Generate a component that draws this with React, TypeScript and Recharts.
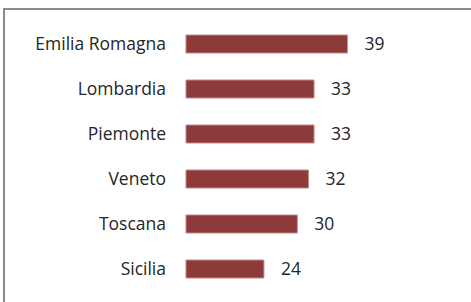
import { BarChart, Bar, XAxis, YAxis, LabelList } from 'recharts';

const regions = ['Emilia Romagna', 'Lombardia', 'Piemonte', 'Veneto', 'Toscana', 'Sicilia'];
const values = [39, 33, 33, 32, 30, 24];

const data = regions.map((region, i) => ({ region, value: values[i] }));

const FONT = '"Open Sans", Calibri, sans-serif';

export default function App() {
  return (
    <div style={{ position: 'absolute', left: 0, top: 0, width: 471, height: 302, overflow: 'hidden', background: '#fff' }}>
      {/* frame, cut off at right and bottom */}
      <div
        style={{
          position: 'absolute', left: 3, top: 8, width: 480, height: 310,
          border: '2px solid #8a8a8a', boxSizing: 'border-box',
        }}
      />
      <div style={{ position: 'absolute', left: 0, top: 0 }}>
        <BarChart
          layout="vertical"
          width={471}
          height={302}
          data={data}
          margin={{ top: 21, right: 118, bottom: 11, left: 0 }}
          barSize={18}
        >
          <XAxis type="number" domain={[10, 40]} hide />
          <YAxis
            type="category"
            dataKey="region"
            width={186}
            axisLine={false}
            tickLine={false}
            tickSize={0}
            tickMargin={20}
            tick={{ fill: '#262626', fontSize: 17.5, fontFamily: FONT }}
          />
          <Bar dataKey="value" fill="#8c3a3a" stroke="#c58a8a" strokeWidth={1} isAnimationActive={false}>
            <LabelList
              dataKey="value"
              position="right"
              offset={17}
              style={{ fill: '#262626', fontSize: 17.5, fontFamily: FONT }}
            />
          </Bar>
        </BarChart>
      </div>
    </div>
  );
}
